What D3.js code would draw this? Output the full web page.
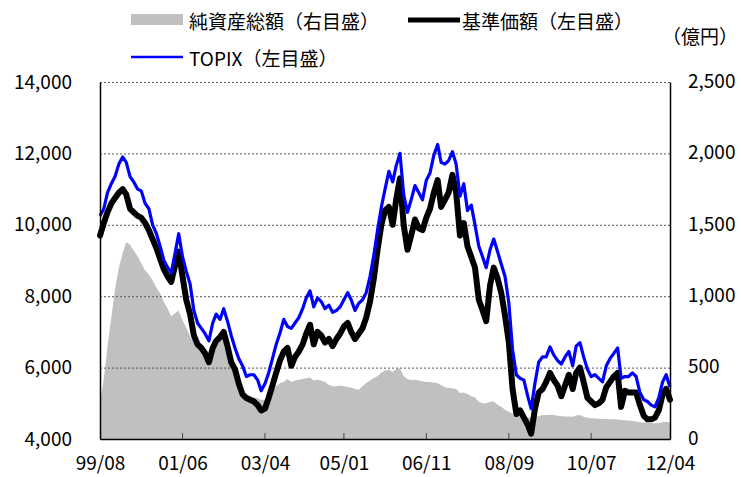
<!DOCTYPE html>
<html><head><meta charset="utf-8">
<script src="https://cdn.jsdelivr.net/npm/d3@7"></script>
<style>
body{margin:0;background:#fff}
text{font-family:"Noto Sans CJK JP","Noto Sans",sans-serif;fill:#000}
</style>
</head><body>
<svg id="c" width="741" height="477"></svg>
<script>
// ---- data ----
const startMonth = "1999-08";
const endMonth = "2012-04";
const xTickLabels = ["99/08","01/06","03/04","05/01","06/11","08/09","10/07","12/04"];
const leftTicks = [4000,6000,8000,10000,12000,14000];
const rightTicks = [0,500,1000,1500,2000,2500];
const seriesNames = ["純資産総額（右目盛）","基準価額（左目盛）","TOPIX（左目盛）"];
const unitLabel = "（億円）";

// monthly values, 1999-08 .. 2012-04
const topix = [
10250,10450,10900,11150,11350,11700,11900,11750,11350,11200,11000,10950,
10600,10450,10000,9750,9400,9000,8800,8650,9200,9750,9100,8700,
8350,7600,7250,7100,6950,6750,7250,7500,7350,7650,7300,6900,
6550,6250,6050,5750,5800,5800,5650,5350,5550,5850,6250,6650,
6970,7350,7150,7100,7250,7400,7650,7950,8150,7700,7950,7850,
7650,7750,7550,7600,7700,7900,8100,7900,7600,7800,7900,8100,
8550,9150,9850,10500,11000,11500,11200,11650,12000,10850,10350,10700,
11100,10900,10700,11250,11450,11950,12250,11750,11700,11800,12050,11700,
10800,11150,10400,10550,10000,9400,9100,8800,9300,9600,9250,8900,
8550,7800,6500,5800,5700,5650,5200,4850,5570,6150,6300,6300,
6580,6350,6200,6100,6300,6450,6050,6600,6700,6300,5950,5750,
5800,5700,5600,6050,6250,6400,6550,5700,5750,5750,5850,5750,
5300,5100,5050,4950,4900,5150,5600,5800,5450
];
const basePrice = [
9700,10050,10350,10600,10750,10900,11000,10850,10450,10350,10250,10200,
10050,9850,9600,9350,9050,8750,8550,8400,8850,9250,8550,7900,
7500,6900,6650,6550,6400,6150,6550,6750,6850,7000,6600,6150,
5950,5550,5250,5150,5100,5050,4950,4800,4850,5150,5500,5850,
6200,6450,6550,6050,6300,6450,6650,6950,7200,6650,7000,6900,
6700,6800,6600,6800,6950,7150,7250,7000,6800,6950,7100,7400,
7850,8500,9300,10000,10400,10500,10000,10700,11300,10000,9300,9700,
10150,9900,9850,10200,10450,10900,11250,10500,10700,10900,11400,10900,
9700,10050,9400,9100,8800,7900,7600,7300,8300,8800,8500,8100,
7450,6700,5400,4700,4800,4600,4400,4150,4850,5300,5400,5600,
5850,5650,5500,5200,5500,5800,5400,5850,6000,5600,5150,5050,
4950,5000,5100,5450,5600,5750,5850,4900,5350,5300,5300,5300,
4950,4650,4550,4550,4600,4800,5250,5400,5100
];
const netAssets = [
250,420,650,850,1050,1200,1300,1380,1360,1320,1280,1230,
1180,1150,1110,1060,1020,960,910,860,880,900,830,780,
720,680,650,630,620,570,620,660,690,700,640,560,
480,400,340,310,300,290,285,275,275,300,340,370,
390,400,420,400,410,415,420,425,430,410,415,410,
400,380,370,370,375,370,365,360,350,345,370,392,
410,427,440,465,480,485,470,490,495,440,420,413,
415,410,405,400,400,395,390,378,362,357,355,350,
322,325,315,300,290,260,250,250,260,262,240,225,
205,190,175,165,160,155,150,150,155,160,168,168,
170,168,162,160,158,158,155,165,168,155,148,145,
143,142,140,140,138,138,136,133,132,130,126,122,
118,115,113,112,110,112,118,120,115
];

// ---- chart ----
const parseM = d3.timeParse("%Y-%m");
const parseT = d3.timeParse("%y/%m");
const months = d3.timeMonth.range(parseM(startMonth), d3.timeMonth.offset(parseM(endMonth),1));
const rows = months.map((d,i)=>({date:d, tp:topix[i], bp:basePrice[i], na:netAssets[i]}));

const L=100, R=670, T=82, B=439;
const svg = d3.select("#c");
const x = d3.scaleTime().domain([parseM(startMonth), parseM(endMonth)]).range([L,R]);
const yL = d3.scaleLinear().domain([4000,14000]).range([B,T]);
const yR = d3.scaleLinear().domain([0,2500]).range([B,T]);
const fmt = d3.format(",");

// area
svg.append("path").datum(rows)
  .attr("fill","#c0c0c0")
  .attr("d", d3.area().x(d=>x(d.date)).y0(yR(0)).y1(d=>yR(d.na)));

// grid lines
svg.append("g").selectAll("line").data(leftTicks.filter(v=>v>4000)).join("line")
  .attr("x1",L).attr("x2",R).attr("y1",d=>yL(d)+0.5).attr("y2",d=>yL(d)+0.5)
  .attr("stroke","#555").attr("stroke-width",1).attr("stroke-dasharray","2,2");

// lines
svg.append("path").datum(rows)
  .attr("fill","none").attr("stroke","#000").attr("stroke-width",6)
  .attr("stroke-linejoin","round").attr("stroke-linecap","round")
  .attr("d", d3.line().x(d=>x(d.date)).y(d=>yL(d.bp)));
svg.append("path").datum(rows)
  .attr("fill","none").attr("stroke","#0000ff").attr("stroke-width",3.2)
  .attr("stroke-linejoin","round")
  .attr("d", d3.line().x(d=>x(d.date)).y(d=>yL(d.tp)));

// axes
const axL = svg.append("g").attr("transform",`translate(${L},0)`)
  .call(d3.axisLeft(yL).tickValues(leftTicks).tickFormat(fmt).tickSize(0).tickPadding(28));
const axR = svg.append("g").attr("transform",`translate(${R},0)`)
  .call(d3.axisRight(yR).tickValues(rightTicks).tickFormat(fmt).tickSize(0).tickPadding(18));
const axB = svg.append("g").attr("transform",`translate(0,${B})`)
  .call(d3.axisBottom(x).tickValues(xTickLabels.map(parseT)).tickFormat(d3.timeFormat("%y/%m")).tickSize(0).tickPadding(18));
[axL,axR,axB].forEach(a=>{
  a.select(".domain").attr("stroke","#000").attr("stroke-width",1.5);
  a.selectAll("text").style("font-size","19px").attr("fill","#000");
});
axR.selectAll(".tick text").attr("dy","0.28em");
// inner x tick marks
svg.append("g").selectAll("line").data(xTickLabels.slice(1,-1).map(parseT)).join("line")
  .attr("x1",d=>x(d)).attr("x2",d=>x(d)).attr("y1",B).attr("y2",B-6)
  .attr("stroke","#444").attr("stroke-width",1);

// legend
const lg = svg.append("g").style("font-size","19px");
lg.append("rect").attr("x",131).attr("y",14).attr("width",52).attr("height",11).attr("fill","#c0c0c0");
lg.append("text").attr("x",189).attr("y",20).attr("dominant-baseline","central").text(seriesNames[0]);
lg.append("line").attr("x1",408).attr("x2",460).attr("y1",20).attr("y2",20).attr("stroke","#000").attr("stroke-width",5);
lg.append("text").attr("x",462).attr("y",20).attr("dominant-baseline","central").text(seriesNames[1]);
lg.append("line").attr("x1",131).attr("x2",183).attr("y1",57).attr("y2",57).attr("stroke","#0000ff").attr("stroke-width",2.5);
lg.append("text").attr("x",189).attr("y",57).attr("dominant-baseline","central").text(seriesNames[2]);
lg.append("text").attr("x",738).attr("y",35).attr("text-anchor","end").attr("dominant-baseline","central").text(unitLabel);
</script>
</body></html>
